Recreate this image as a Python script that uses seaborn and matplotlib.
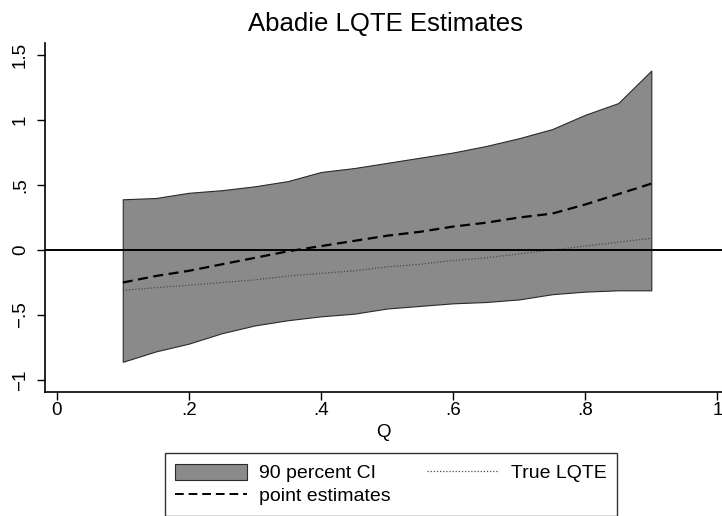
import matplotlib
matplotlib.use("Agg")
import matplotlib.pyplot as plt
import seaborn as sns
import pandas as pd
from matplotlib.patches import Patch
from matplotlib.lines import Line2D

# ---- data ----
q = [0.10, 0.15, 0.20, 0.25, 0.30, 0.35, 0.40, 0.45, 0.50,
     0.55, 0.60, 0.65, 0.70, 0.75, 0.80, 0.85, 0.90]
ci_upper = [0.39, 0.40, 0.44, 0.46, 0.49, 0.53, 0.60, 0.63, 0.67,
            0.71, 0.75, 0.80, 0.86, 0.93, 1.04, 1.13, 1.38]
ci_lower = [-0.86, -0.78, -0.72, -0.64, -0.58, -0.54, -0.51, -0.49, -0.45,
            -0.43, -0.41, -0.40, -0.38, -0.34, -0.32, -0.31, -0.31]
point_est = [-0.25, -0.20, -0.16, -0.11, -0.06, -0.01, 0.03, 0.07, 0.11,
             0.14, 0.18, 0.21, 0.25, 0.28, 0.35, 0.43, 0.51]
true_lqte = [-0.31, -0.29, -0.27, -0.25, -0.23, -0.20, -0.18, -0.16, -0.13,
             -0.11, -0.08, -0.06, -0.03, 0.00, 0.03, 0.06, 0.09]
xticks = [0, 0.2, 0.4, 0.6, 0.8, 1]
xticklabels = ["0", ".2", ".4", ".6", ".8", "1"]
yticks = [-1, -0.5, 0, 0.5, 1, 1.5]
yticklabels = ["\u22121", "\u2212.5", "0", ".5", "1", "1.5"]

df = pd.DataFrame({"Q": q, "upper": ci_upper, "lower": ci_lower,
                   "point": point_est, "true": true_lqte})

sns.set_style("ticks")
plt.rcParams["font.family"] = ["Liberation Sans", "DejaVu Sans"]
plt.rcParams["text.color"] = "black"
plt.rcParams["axes.labelcolor"] = "black"

fig = plt.figure(figsize=(7.22, 5.16), dpi=100)
ax = fig.add_axes([45 / 722, 1 - 392 / 516, 1 - 45 / 722, (392 - 43) / 516])

fill_col = "#8a8a8a"
ax.fill_between(df["Q"], df["lower"], df["upper"], facecolor=fill_col,
                edgecolor="#2a2a2a", linewidth=0.8, zorder=1)
sns.lineplot(data=df, x="Q", y="true", ax=ax, color="#4a4a4a",
             linestyle=(0, (1, 1.5)), linewidth=0.9, zorder=2)
sns.lineplot(data=df, x="Q", y="point", ax=ax, color="black",
             linestyle=(0, (4.5, 2.5)), linewidth=1.6, zorder=3)
ax.axhline(0, color="black", linewidth=1.4, zorder=4)

ax.set_xlim(-0.0177, 1.007)
ax.set_ylim(-1.092, 1.592)
ax.set_xticks(xticks)
ax.set_xticklabels(xticklabels)
ax.set_yticks(yticks)
ax.set_yticklabels(yticklabels, rotation=90, va="center")
ax.tick_params(axis="both", direction="out", length=5.5, width=1,
               labelsize=13.5, colors="black")
ax.tick_params(axis="y", pad=6)
ax.tick_params(axis="x", pad=2)
ax.set_xlabel("Q", fontsize=13.5, labelpad=3, color="black")
ax.set_ylabel("")
for s in ["top", "right"]:
    ax.spines[s].set_visible(False)
for s in ["left", "bottom"]:
    ax.spines[s].set_linewidth(1.2)
    ax.spines[s].set_color("black")

fig.text(0.534, 1 - 24 / 516, "Abadie LQTE Estimates", ha="center",
         va="center", fontsize=18.5, color="black")

handles = [
    Patch(facecolor=fill_col, edgecolor="#2a2a2a", linewidth=0.8),
    Line2D([], [], color="black", linestyle=(0, (4.5, 2.5)), linewidth=1.4),
    Line2D([], [], color="#4a4a4a", linestyle=(0, (1, 1.5)), linewidth=0.9),
]
labels = ["90 percent CI", "point estimates", "True LQTE"]
leg = fig.legend(handles, labels, loc="upper center",
                 bbox_to_anchor=(391 / 722, 1 - 453 / 516), ncol=2,
                 fontsize=14, frameon=True, fancybox=False,
                 handlelength=3.7, handleheight=0.9, columnspacing=1.9,
                 borderpad=0.55, labelspacing=0.2, handletextpad=0.6,
                 borderaxespad=0)
leg.get_frame().set_edgecolor("black")
leg.get_frame().set_linewidth(1.0)
for t in leg.get_texts():
    t.set_color("black")

fig.savefig("out.png", dpi=100)
